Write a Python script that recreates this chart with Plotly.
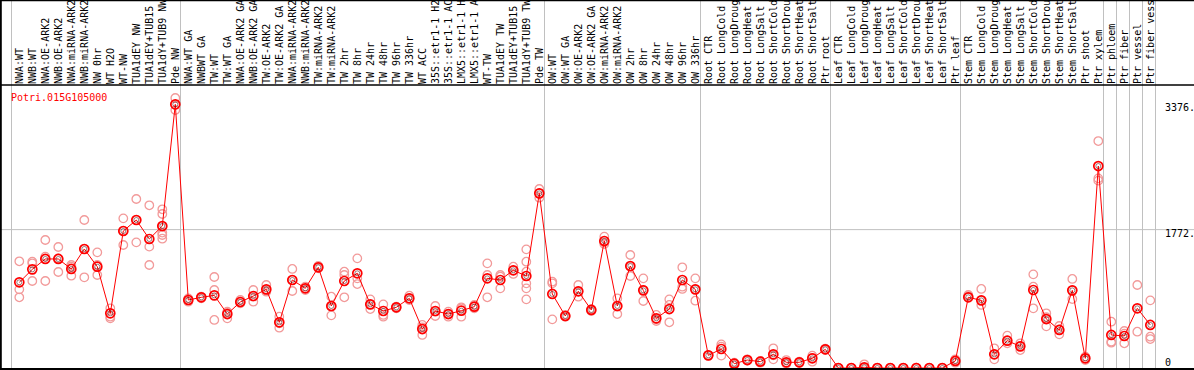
import plotly.graph_objects as go

gene_name = "Potri.015G105000"

categories = [
    "NWA:WT", "NWB:WT", "NWA:OE-ARK2", "NWB:OE-ARK2", "NWA:miRNA-ARK2", "NWB:miRNA-ARK2",
    "NW 0hr", "WT H2O", "WT-NW", "TUA1dEY NW", "TUA1dEY+TUB15", "TUA1dY+TUB9 NW", "Pde NW",
    "NWA:WT GA", "NWBWT GA", "TW:WT", "TW:WT GA", "NWA:OE-ARK2 GA", "NWB:OE-ARK2 GA",
    "TW:OE-ARK2", "TW:OE-ARK2 GA", "NWA:miRNA-ARK2", "NWB:miRNA-ARK2", "TW:miRNA-ARK2",
    "TW:miRNA-ARK2", "TW 2hr", "TW 8hr", "TW 24hr", "TW 48hr", "TW 96hr", "TW 336hr",
    "WT ACC", "35S::etr1-1 H2O", "35S::etr1-1 ACC", "LMX5::etr1-1 H2O", "LMX5::etr1-1 ACC",
    "WT-TW", "TUA1dEY TW", "TUA1dEY+TUB15", "TUA1dY+TUB9 TW", "Pde TW",
    "OW:WT", "OW:WT GA", "OW:OE-ARK2", "OW:OE-ARK2 GA", "OW:miRNA-ARK2", "OW:miRNA-ARK2",
    "OW 2hr", "OW 8hr", "OW 24hr", "OW 48hr", "OW 96hr", "OW 336hr",
    "Root CTR", "Root LongCold", "Root LongDrought", "Root LongHeat", "Root LongSalt",
    "Root ShortCold", "Root ShortDrought", "Root ShortHeat", "Root ShortSalt", "Ptr root",
    "Leaf CTR", "Leaf LongCold", "Leaf LongDrought", "Leaf LongHeat", "Leaf LongSalt",
    "Leaf ShortCold", "Leaf ShortDrought", "Leaf ShortHeat", "Leaf ShortSalt", "Ptr leaf",
    "Stem CTR", "Stem LongCold", "Stem LongDrought", "Stem LongHeat", "Stem LongSalt",
    "Stem ShortCold", "Stem ShortDrought", "Stem ShortHeat", "Stem ShortSalt", "Ptr shoot",
    "Ptr xylem", "Ptr phloem", "Ptr fiber", "Ptr vessel", "Ptr fiber vessel",
]

means = [
    1097, 1263, 1396, 1396, 1268, 1524, 1297, 700, 1754, 1895, 1652, 1818, 3376,
    871, 905, 930, 691, 845, 922, 1007, 585, 1127, 1020, 1289, 794, 1114, 1212, 815,
    730, 777, 892, 499, 730, 691, 734, 785, 1148, 1127, 1251, 1178, 2236,
    948, 666, 982, 743, 1626, 794, 1306, 994, 636, 755, 1127, 1007,
    162, 243, 55, 102, 81, 175, 73, 73, 124, 239,
    0, 0, 9, 0, 0, 0, 0, 0, 0, 90,
    905, 866, 175, 350, 277, 999, 627, 487, 994, 124, 2586,
    423, 410, 764, 551,
]

replicates = [
    [1366, 1007, 905], [1361, 1340, 1114], [1639, 1426, 1114], [1549, 1404, 1229],
    [1319, 1297, 1182], [1895, 1524, 1161], [1481, 1319, 1191], [764, 657, 636],
    [1916, 1754, 1575], [2164, 1895, 1609], [2083, 1554, 1319],
    [2032, 1972, 1810, 1733, 1703, 1656], [3457, 3367, 3303],
    [892, 871, 849], [913, 905, 892], [1165, 999, 615], [721, 708, 636],
    [871, 845, 828], [999, 913, 849], [1063, 990, 977], [657, 572, 516],
    [1268, 1127, 986], [1041, 1020, 999], [1306, 1289, 1276], [913, 785, 674],
    [1233, 1191, 905], [1404, 1148, 1075], [879, 815, 755], [815, 679, 657],
    [785, 777, 764], [926, 892, 871], [551, 521, 423], [794, 721, 666],
    [721, 691, 657], [777, 764, 657], [807, 785, 764], [1340, 1191, 905],
    [1191, 1169, 1020], [1297, 1251, 1204], [1519, 1361, 1233, 1084, 1020, 879],
    [2292, 2236, 2181],
    [1105, 1084, 623], [680, 666, 655], [1063, 982, 913], [755, 743, 730],
    [1682, 1610, 1588], [892, 785, 691], [1447, 1297, 1178], [1148, 999, 858],
    [679, 623, 602], [879, 807, 585], [1289, 1041, 1012], [1148, 1007, 862],
    [166, 162, 158], [303, 273, 158], [68, 55, 43], [111, 102, 94], [68, 81, 90],
    [252, 162, 111], [102, 64, 55], [81, 64, 73], [158, 128, 81], [247, 239, 230],
    [0, 0, 0], [0, 0, 0], [47, 0, 0], [0, 0, 0], [0, 0, 0], [0, 0, 0], [0, 5, 0],
    [0, 0, 0], [0, 0, 0], [111, 90, 68],
    [935, 905, 920], [1012, 866, 807], [252, 175, 111], [414, 350, 316],
    [316, 282, 230], [1199, 1041, 764], [700, 650, 533], [538, 490, 431],
    [1140, 994, 883], [102, 124, 145], [2906, 2428, 2399],
    [593, 337, 324], [474, 440, 316], [1063, 465], [866, 401, 371],
]

# category index after which a separator line is drawn
group_ends = [-1, 12, 40, 52, 62, 72, 83, 84, 85, 86, 87]

y_ticks = [0, 1772, 3376]
y_tick_text = ["0", "1772.", "3376."]
y_tick_shift = [6, -3.5, -3]

W, H = 1194, 370
ML, MR, MT, MB = 2, 34, 85, 1
PW = W - ML - MR
PH = H - MT - MB

xs = list(range(len(categories)))
rep_x, rep_y = [], []
for i, vals in enumerate(replicates):
    for v in vals:
        rep_x.append(i)
        rep_y.append(v)

MONO = "DejaVu Sans Mono"

fig = go.Figure()
fig.add_trace(go.Scatter(
    x=rep_x, y=rep_y, mode="markers",
    marker=dict(symbol="circle-open", size=8.5, color="#f29a9a", line=dict(width=1.3, color="#f29a9a")),
    hoverinfo="skip", showlegend=False,
))
fig.add_trace(go.Scatter(
    x=xs, y=means, mode="lines+markers",
    line=dict(color="#ff0000", width=1),
    marker=dict(symbol="circle-open", size=9, color="#ff0000", line=dict(width=1.7, color="#ff0000")),
    showlegend=False,
))
fig.add_trace(go.Scatter(
    x=xs, y=means, mode="markers",
    marker=dict(symbol="circle-open", size=5, color="rgba(60,0,0,0.5)", line=dict(width=1, color="rgba(60,0,0,0.5)")),
    hoverinfo="skip", showlegend=False,
))

shapes = []
for g in group_ends:
    shapes.append(dict(type="line", xref="x", yref="paper", x0=g + 0.4, x1=g + 0.4,
                       y0=-0.01, y1=(H + 5 - MB) / PH, line=dict(color="#c0c0c0", width=1),
                       layer="below"))
# horizontal grid line at the mid tick
shapes.append(dict(type="line", xref="paper", yref="y", x0=-0.01, x1=(W - ML) / PW,
                   y0=y_ticks[1], y1=y_ticks[1], line=dict(color="#c0c0c0", width=1), layer="below"))
# frame lines
full_x1 = (W - ML + 2) / PW
shapes.append(dict(type="line", xref="paper", yref="paper", x0=-0.01, x1=full_x1,
                   y0=1, y1=1, line=dict(color="black", width=1.5)))
shapes.append(dict(type="line", xref="paper", yref="paper", x0=-0.01, x1=full_x1,
                   y0=0, y1=0, line=dict(color="black", width=2)))
shapes.append(dict(type="line", xref="paper", yref="paper", x0=-0.01, x1=full_x1,
                   y0=(H - MB - 0.5) / PH, y1=(H - MB - 0.5) / PH, line=dict(color="black", width=1.5)))
shapes.append(dict(type="line", xref="paper", yref="paper", x0=-1.2 / PW, x1=-1.2 / PW,
                   y0=-0.01, y1=(H) / PH, line=dict(color="black", width=2)))

annotations = [dict(text=gene_name, xref="paper", yref="paper", x=7.3 / PW, y=(H - MB - 97) / PH,
                    xanchor="left", yanchor="middle", showarrow=False,
                    font=dict(family=MONO, size=10, color="#ff0000"))]
for v, t, s in zip(y_ticks, y_tick_text, y_tick_shift):
    annotations.append(dict(text=t, xref="paper", yref="y", x=(1163 - ML) / PW, y=v, yshift=s,
                            xanchor="left", yanchor="middle", showarrow=False,
                            font=dict(family=MONO, size=10, color="black")))

fig.update_layout(
    width=W, height=H,
    margin=dict(l=ML, r=MR, t=MT, b=MB, pad=0, autoexpand=False),
    paper_bgcolor="white", plot_bgcolor="white",
    shapes=shapes, annotations=annotations,
    xaxis=dict(
        range=[-1.331, 87.746], side="top", tickmode="array", tickvals=xs, ticktext=categories,
        tickangle=-90, ticks="", showgrid=False, zeroline=False, showline=False,
        automargin=False, ticklabelstandoff=0,
        tickfont=dict(family=MONO, size=10, color="black"), fixedrange=True,
    ),
    yaxis=dict(
        range=[-12.8, 3623.6], showgrid=False, zeroline=False, showline=False,
        showticklabels=False, ticks="", fixedrange=True, automargin=False,
    ),
)

fig.write_html(
    "out.html",
    config={"displayModeBar": False},
    post_script="document.body.style.margin='0';document.body.style.padding='0';document.body.style.overflow='hidden';",
)
